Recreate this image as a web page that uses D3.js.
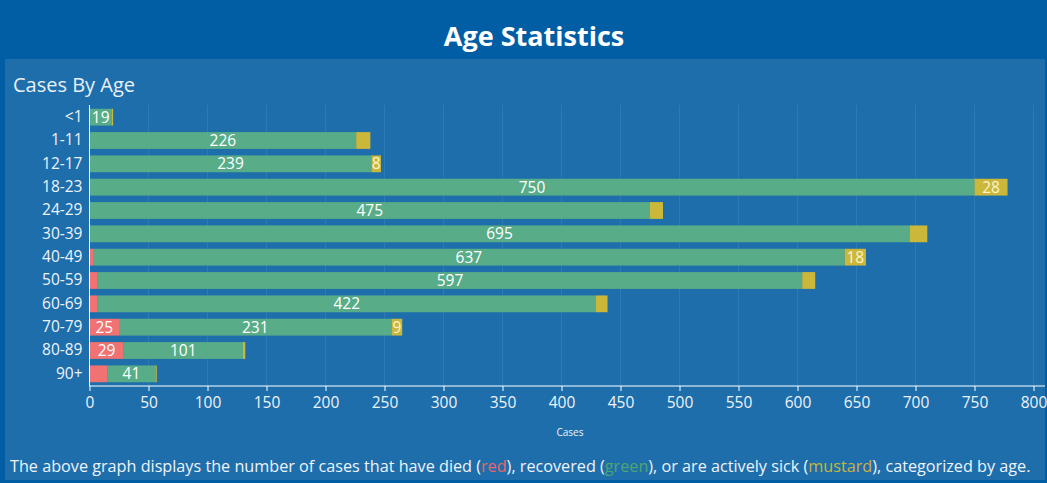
<!DOCTYPE html>
<html><head><meta charset="utf-8">
<script src="https://cdn.jsdelivr.net/npm/d3@7"></script>
<style>
html,body{margin:0;padding:0;background:#015ea5;}
svg{display:block;font-family:"Open Sans",sans-serif;}
</style></head>
<body>
<svg id="chart" width="1047" height="483"></svg>
<script>
const categories = ["<1","1-11","12-17","18-23","24-29","30-39","40-49","50-59","60-69","70-79","80-89","90+"];
const died      = [0, 0, 0, 0, 0, 0, 3, 7, 7, 25, 29, 15];
const recovered = [19, 226, 239, 750, 475, 695, 637, 597, 422, 231, 101, 41];
const active    = [1, 12, 8, 28, 11, 15, 18, 11, 10, 9, 2, 1];
const diedLabel      = [0,0,0,0,0,0,0,0,0,1,1,0];
const recoveredLabel = [1,1,1,1,1,1,1,1,1,1,1,1];
const activeLabel    = [0,0,1,1,0,0,1,0,0,1,0,0];
const xTicks = [0,50,100,150,200,250,300,350,400,450,500,550,600,650,700,750,800];
const seriesNames = ["died","recovered","active"];
const colors = {died:"#f07272", recovered:"#58ad88", active:"#cbb83b"};
const labelColors = {died:"#ffffff", recovered:"#ffffff", active:"#fbf3cf"};

const svg = d3.select("#chart");
svg.append("rect").attr("width",1047).attr("height",483).attr("fill","#015ea5");
svg.append("rect").attr("x",5).attr("y",59).attr("width",1040).attr("height",421).attr("fill","#1e6eac");

svg.append("text").attr("x",534).attr("y",46).attr("text-anchor","middle")
  .attr("fill","#ffffff").attr("font-size",27).attr("font-weight","bold").text("Age Statistics");
svg.append("text").attr("x",13).attr("y",92)
  .attr("fill","#e9f0f7").attr("font-size",20).text("Cases By Age");

const x = d3.scaleLinear().domain([0,800]).range([89.5,1033.5]);
const y = d3.scaleBand().domain(categories).range([105.5,385.5]).paddingInner(0.28).paddingOuter(0.14);

svg.append("g").selectAll("line").data(xTicks.slice(1)).join("line")
  .attr("x1",d=>x(d)).attr("x2",d=>x(d)).attr("y1",105).attr("y2",386)
  .attr("stroke","#3a82bb").attr("stroke-width",1).attr("opacity",0.6);

const rows = categories.map((c,i)=>({cat:c, died:died[i], recovered:recovered[i], active:active[i],
  lab:{died:diedLabel[i], recovered:recoveredLabel[i], active:activeLabel[i]}}));
const stack = d3.stack().keys(seriesNames)(rows);

const g = svg.append("g");
stack.forEach(layer=>{
  const key = layer.key;
  g.append("g").selectAll("rect").data(layer).join("rect")
    .attr("x",d=>x(d[0])).attr("width",d=>Math.max(0,x(d[1])-x(d[0])))
    .attr("y",d=>y(d.data.cat)).attr("height",y.bandwidth())
    .attr("fill",colors[key]);
  g.append("g").selectAll("text").data(layer.filter(d=>d.data.lab[key])).join("text")
    .attr("x",d=>(x(d[0])+x(d[1]))/2).attr("y",d=>y(d.data.cat)+y.bandwidth()/2)
    .attr("dy","0.36em").attr("text-anchor","middle")
    .attr("fill",labelColors[key]).attr("font-size",15.5)
    .text(d=>d.data[key]);
});

const yAxis = svg.append("g").attr("transform","translate(89.5,0)")
  .call(d3.axisLeft(y).tickSize(0).tickPadding(7));
yAxis.select(".domain").attr("stroke","#ffffff").attr("d","M0,105V386");
yAxis.selectAll("text").attr("fill","#eef3f8").attr("font-size",15.5).attr("font-family","Open Sans, sans-serif");

const xAxis = svg.append("g").attr("transform","translate(0,386)")
  .call(d3.axisBottom(x).tickValues(xTicks).tickSize(5).tickPadding(6).tickSizeOuter(0));
xAxis.select(".domain").attr("stroke","#ffffff").attr("d","M89.5,0H1045");
xAxis.selectAll(".tick line").attr("stroke","#ffffff");
xAxis.selectAll("text").attr("fill","#eef3f8").attr("font-size",15.5).attr("font-family","Open Sans, sans-serif");

svg.append("text").attr("x",570).attr("y",436).attr("text-anchor","middle")
  .attr("fill","#eef3f8").attr("font-size",10).text("Cases");

const footG = svg.append("g");
const foot = footG.append("text").attr("x",0).attr("y",0).attr("font-size",16.5).attr("fill","#eef3f8");
const parts = [["The above graph displays the number of cases that have died (","#eef3f8"],["red","#e8646e"],
  ["), recovered (","#eef3f8"],["green","#4fa56f"],["), or are actively sick (","#eef3f8"],["mustard","#c9b43c"],
  ["), categorized by age.","#eef3f8"]];
parts.forEach(p=>foot.append("tspan").attr("fill",p[1]).text(p[0]));
const fw = foot.node().getComputedTextLength();
footG.attr("transform",`translate(10,472) scale(${1021/fw},1)`);
</script>
</body></html>
